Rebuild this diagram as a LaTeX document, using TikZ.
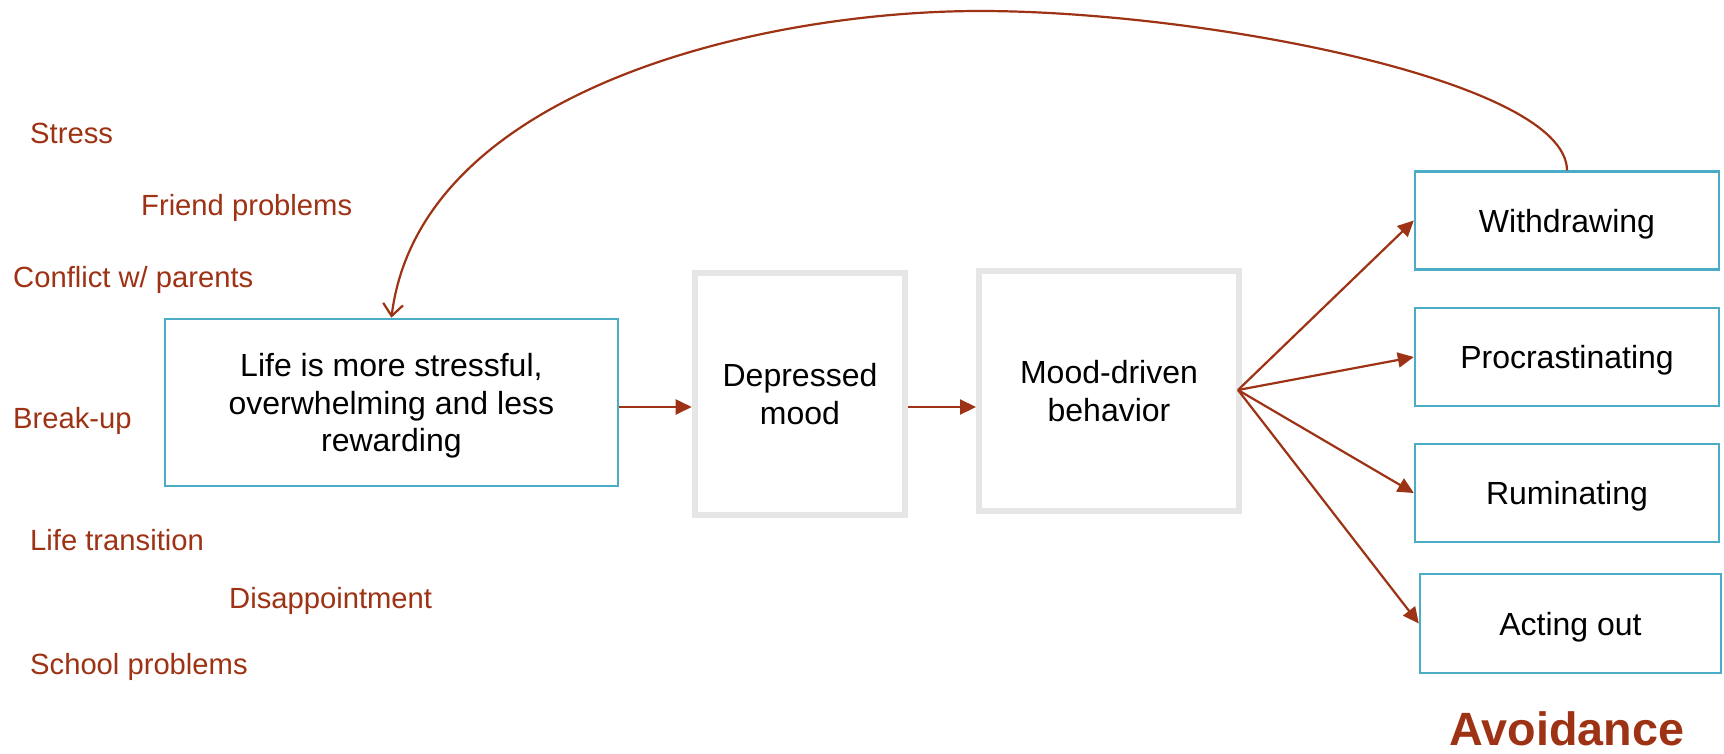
\documentclass[tikz,border=0pt]{standalone}
\usepackage{fontspec}
\setmainfont{Liberation Sans}
\usetikzlibrary{arrows.meta}
\definecolor{myred}{HTML}{9E3214}
\definecolor{myblue}{HTML}{4BACC6}
\definecolor{mygray}{HTML}{E6E6E6}
\tikzset{
  redlbl/.style={anchor=west, inner sep=0pt, text depth=0pt, text=myred, font=\fontsize{29.2}{35}\selectfont},
  bluebox/.style={draw=myblue, line width=2.4pt, fill=white, align=center, inner sep=0pt,
    text depth=0pt, font=\fontsize{32}{37.5}\selectfont},
  graybox/.style={draw=mygray, line width=6pt, fill=white, align=center, inner sep=0pt,
    minimum width=#1, font=\fontsize{32}{37.5}\selectfont},
  redarrow/.style={draw=myred, line width=2.2pt, -{Triangle[length=16pt,width=15pt]}},
  loopline/.style={draw=myred, line width=2.2pt, -{Straight Barb[length=12pt,width=20pt,line width=2.2pt]}}
}
\begin{document}
\begin{tikzpicture}[x=1pt,y=-1pt]
\useasboundingbox (0,0) rectangle (1724,753);
\fill[white] (0,0) rectangle (1724,753);

% red stressor labels
\node[redlbl] (stress) at (30,133) {Stress};
\node[redlbl] (friend) at (141,204.5) {Friend problems};
\node[redlbl] (conflict) at (13,277) {Conflict w/ parents};
\node[redlbl] (breakup) at (13,418) {Break-up};
\node[redlbl] (trans) at (30,540) {Life transition};
\node[redlbl] (disap) at (229,598) {Disappointment};
\node[redlbl] (school) at (30,664) {School problems};

% main boxes
\node[bluebox, minimum width=453pt, minimum height=167pt] (life) at (391.4,402.4)
  {Life is more stressful,\\overwhelming and less\\rewarding};
\node[graybox=210.6pt, minimum height=241.4pt] (dep) at (800,394) {Depressed\\mood};
\node[graybox=260pt, minimum height=240pt] (mood) at (1109,391) {Mood-driven\\behavior};

% avoidance boxes
\node[bluebox, minimum width=304pt, minimum height=98pt] (wd) at (1567,220.5) {Withdrawing};
\node[bluebox, minimum width=304pt, minimum height=98pt] (pro) at (1567,357) {Procrastinating};
\node[bluebox, minimum width=304pt, minimum height=98pt] (rum) at (1567,493) {Ruminating};
\node[bluebox, minimum width=301pt, minimum height=99pt] (act) at (1570.5,623.5) {Acting out};

\node[text=myred, font=\bfseries\fontsize{46.7}{50}\selectfont, inner sep=0pt] (avoid) at (1567,729) {Avoidance};

% connectors
\draw[redarrow] (life.east |- 0,407) -- (dep.west |- 0,407);
\draw[redarrow] (dep.east |- 0,407) -- (mood.west |- 0,407);

\coordinate (fan) at (1238,390);
\draw[redarrow] (fan) -- (wd.west);
\draw[redarrow] (fan) -- (pro.west);
\draw[redarrow] (fan) -- (rum.west);
\draw[redarrow] (fan) -- (act.west);

\coordinate (peak) at (980,11);
\draw[loopline] (wd.north) .. controls (1566,80) and (1200,11) .. (peak)
  .. controls (760,11) and (420,90) .. (life.north);
\end{tikzpicture}
\end{document}
